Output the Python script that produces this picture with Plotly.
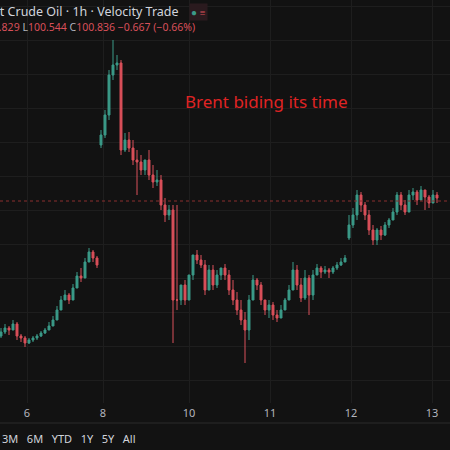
import plotly.graph_objects as go

open_px = [336,332,328,330,324,336,338,343,340,338,336,333,330,326,320,310,300,295,300,288,276,278,262,252,258,
           145,135,115,75,65,63,150,140,148,160,162,170,160,175,182,180,205,215,210,300,300,285,300,275,255,
           260,265,290,270,285,275,268,275,290,300,310,320,330,300,280,285,300,310,305,315,318,310,300,290,270,
           285,298,278,295,275,268,272,270,272,268,265,262,238,225,215,195,205,215,230,240,230,235,225,220,
           212,195,205,212,195,192,200,190,197,203,195]
close_px = [332,328,330,324,336,338,343,340,338,336,333,330,326,320,310,300,295,300,288,276,278,262,252,258,265,
            135,115,75,65,63,150,140,148,160,162,170,160,175,182,180,205,215,210,300,300,285,300,275,255,260,
            265,290,270,285,275,268,275,290,300,310,320,330,300,280,285,300,310,305,315,318,310,300,290,270,285,
            298,278,295,275,268,272,270,272,268,265,262,258,225,215,195,205,215,230,240,230,235,225,220,212,
            195,205,212,195,192,200,190,197,203,195,198]
high_px = [328,324,326,320,322,334,336,338,336,334,331,328,322,316,306,296,290,293,284,272,268,258,248,250,256,
           130,110,70,40,55,60,133,132,140,150,155,160,150,165,170,175,198,205,205,205,290,280,285,270,250,
           255,260,265,265,270,268,264,270,280,292,300,312,295,275,278,282,300,300,302,310,305,298,285,262,265,
           278,270,275,270,264,266,266,268,266,262,258,255,215,208,190,192,202,210,225,228,226,222,218,208,
           192,192,200,190,188,190,186,190,195,190,192]
low_px = [338,334,335,330,340,342,347,344,342,340,337,334,330,324,314,304,300,304,292,282,282,266,256,262,268,
          148,138,120,80,70,155,152,152,165,195,175,175,180,188,186,210,222,220,343,310,305,305,300,280,264,
          268,295,290,290,288,280,280,295,305,315,325,363,340,290,290,305,315,318,320,322,315,305,295,280,290,
          302,300,315,300,275,278,274,278,274,270,266,262,240,228,220,212,220,235,245,245,240,236,228,218,
          215,210,215,212,200,205,200,210,208,200,203]

tick_pos = [6.5, 25.5, 47, 67.25, 87.5, 107.75]
tick_text = ["6", "8", "10", "11", "12", "13"]
last_close = 100.836
range_buttons = ["3M", "6M", "YTD", "1Y", "5Y", "All"]

PLOT_H = 403
def to_price(p):
    return [round(last_close + (201 - v) * 0.025, 3) for v in p]
def py(pix):
    return (PLOT_H - pix) / PLOT_H

idx = list(range(len(close_px)))
fig = go.Figure(go.Candlestick(
    x=idx, open=to_price(open_px), high=to_price(high_px), low=to_price(low_px), close=to_price(close_px),
    increasing=dict(line=dict(color="#3b9a88", width=1), fillcolor="#3b9a88"),
    decreasing=dict(line=dict(color="#d9505a", width=1), fillcolor="#d9505a"),
    whiskerwidth=0, showlegend=False, hoverinfo="skip"))

fig.add_hline(y=last_close, line=dict(color="#8a2e2e", width=1, dash="dot"))
fig.add_shape(type="line", xref="paper", yref="paper", x0=0, x1=1, y0=py(423), y1=py(423),
              line=dict(color="#2a2a2a", width=1))

fig.update_layout(
    width=450, height=450, paper_bgcolor="#121212", plot_bgcolor="#121212",
    margin=dict(l=0, r=0, t=0, b=450 - PLOT_H, autoexpand=False),
    font=dict(family="Noto Sans", color="#b2b5be"),
    xaxis=dict(range=[-0.25, 112.25], rangeslider=dict(visible=False), tickvals=tick_pos, ticktext=tick_text,
               showgrid=True, gridcolor="#1e1e1e", zeroline=False, tickfont=dict(size=11, color="#b2b5be"),
               ticks="", ticklabelstandoff=2),
    yaxis=dict(range=[last_close - 5.05, last_close + 5.025], showticklabels=False, zeroline=False,
               showgrid=True, gridcolor="#1e1e1e", tick0=104.861, dtick=0.85),
)

fig.add_annotation(xref="paper", yref="paper", x=183/450, y=py(101), text="Brent biding its time", showarrow=False,
                   font=dict(size=17, color="#e02424"), xanchor="left", yanchor="middle")
fig.add_annotation(xref="paper", yref="paper", x=181/450, y=py(12), xanchor="right", yanchor="middle",
                   text="Brent Crude Oil · 1h · Velocity Trade", showarrow=False, font=dict(size=12.5, color="#d1d4dc"))
fig.add_annotation(xref="paper", yref="paper", x=197/450, y=py(27), xanchor="right", yanchor="middle",
                   showarrow=False, font=dict(size=10.5, color="#d9505a"),
                   text="<span style='color:#b2b5be'>H</span>100.829 <span style='color:#b2b5be'>L</span>100.544 "
                        "<span style='color:#b2b5be'>C</span>100.836 −0.667 (−0.66%)")
fig.add_annotation(xref="paper", yref="paper", x=189/450, y=py(12), xanchor="left", yanchor="middle",
                   showarrow=False, text="<span style='color:#3b9a88'>●</span> <span style='color:#d9505a'>≡</span>",
                   font=dict(size=10), bgcolor="#2a1a1e")
fig.add_annotation(xref="paper", yref="paper", x=0, y=py(438), xanchor="left", yanchor="middle", showarrow=False,
                   text="   ".join(range_buttons), font=dict(size=11, color="#d1d4dc"))

fig.write_html("out.html", config={"displayModeBar": False},
               post_script="document.body.style.margin='0';document.body.style.background='#121212';")
